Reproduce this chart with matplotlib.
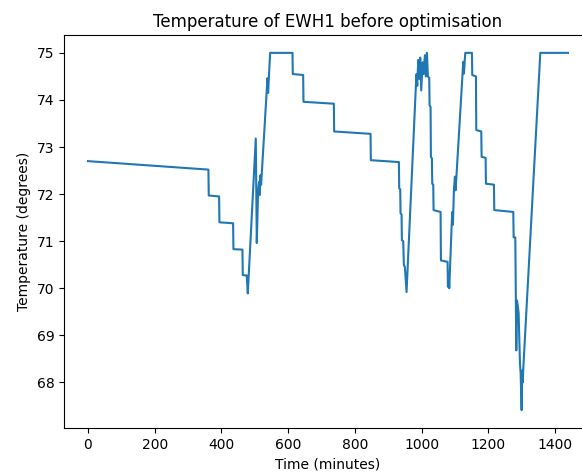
import matplotlib
matplotlib.use("Agg")
import matplotlib.pyplot as plt

# Time (minutes) and temperature (degrees)
time_min = [
    0, 361, 362, 393, 394, 435, 436, 463, 464, 476, 479,
    503, 506, 510, 513, 515, 517, 519, 538, 540, 546,
    613, 614, 645, 646, 737, 738, 847, 848, 932,
    933, 936, 937, 940, 941, 945, 947, 950, 955,
    983, 985, 987, 990, 993, 996, 999, 1003, 1006, 1010, 1013, 1016, 1019,
    1020, 1023, 1024, 1027, 1028, 1031, 1032, 1035, 1036, 1057, 1058, 1078, 1079,
    1081, 1083, 1090, 1092, 1094, 1097, 1100, 1102, 1125, 1127, 1131,
    1151, 1152, 1163, 1164, 1179, 1180, 1192, 1193, 1217, 1218, 1275, 1276,
    1281, 1284, 1286, 1288, 1291, 1295, 1297, 1300, 1302, 1303, 1305,
    1356, 1439,
]
temperature = [
    72.70, 72.52, 71.97, 71.95, 71.40, 71.38, 70.83, 70.82, 70.28, 70.27, 69.89,
    73.18, 70.96, 72.08, 72.26, 71.98, 72.40, 72.20, 74.46, 74.15, 75.00,
    75.00, 74.55, 74.53, 73.96, 73.92, 73.33, 73.28, 72.72, 72.68,
    72.12, 72.10, 71.59, 71.57, 71.02, 71.00, 70.49, 70.45, 69.92,
    74.30, 74.55, 74.30, 74.85, 74.45, 74.90, 74.20, 74.80, 74.55, 74.95, 74.50, 75.00, 74.50,
    74.49, 74.47, 73.89, 73.85, 72.79, 72.76, 72.22, 72.20, 71.66, 71.62, 70.59, 70.56, 70.03,
    70.30, 70.00, 71.30, 71.62, 71.35, 72.10, 72.37, 72.08, 74.81, 74.56, 75.00,
    75.00, 74.53, 74.50, 73.36, 73.33, 72.79, 72.77, 72.22, 72.20, 71.66, 71.62, 71.08,
    71.08, 68.68, 69.74, 69.65, 69.47, 68.40, 68.20, 67.41, 68.25, 68.00, 68.30,
    75.00, 75.00,
]

title = "Temperature of EWH1 before optimisation"
xlabel = "Time (minutes)"
ylabel = "Temperature (degrees)"

fig = plt.figure(figsize=(5.82, 4.75), dpi=100)
ax = fig.add_axes([64 / 582, 1 - 428 / 475, 528 / 582, (428 - 35) / 475])
ax.plot(time_min, temperature, color="#1f77b4", linewidth=1.5)
ax.set_title(title)
ax.set_xlabel(xlabel)
ax.set_ylabel(ylabel)
fig.savefig("out.png", dpi=100)
